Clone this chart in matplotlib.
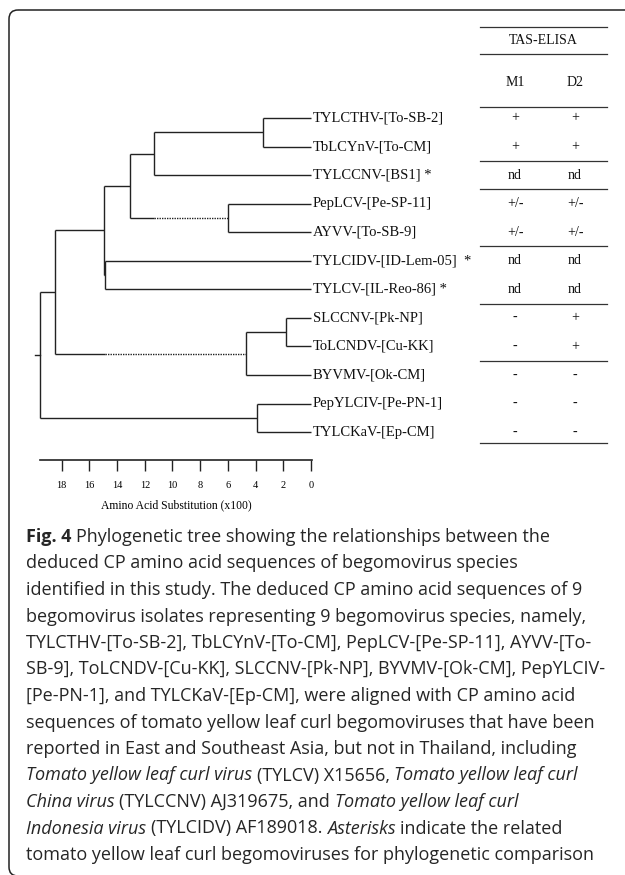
import matplotlib
matplotlib.use('Agg')
import matplotlib.pyplot as plt
from matplotlib.patches import FancyBboxPatch
from matplotlib.transforms import blended_transform_factory


# ---- data ----
leaves = ['TYLCTHV-[To-SB-2]', 'TbLCYnV-[To-CM]', 'TYLCCNV-[BS1] *', 'PepLCV-[Pe-SP-11]',
          'AYVV-[To-SB-9]', 'TYLCIDV-[ID-Lem-05]  *', 'TYLCV-[IL-Reo-86] *', 'SLCCNV-[Pk-NP]',
          'ToLCNDV-[Cu-KK]', 'BYVMV-[Ok-CM]', 'PepYLCIV-[Pe-PN-1]', 'TYLCKaV-[Ep-CM]']
m1 = ['+', '+', 'nd', '+/-', '+/-', 'nd', 'nd', '-', '-', '-', '-', '-']
d2 = ['+', '+', 'nd', '+/-', '+/-', 'nd', 'nd', '+', '+', '-', '-', '-']
group_breaks = [1.5, 2.5, 4.5, 6.5, 8.5]   # row gaps with a rule

# internal nodes: name, depth (x100 substitutions), children
node_names = ['root', 'A', 'B', 'C', 'C2', 'D', 'E', 'F', 'G', 'H', 'I']
node_depths = [19.57, 3.9, 18.5, 14.95, 14.85, 13.1, 11.3, 3.5, 6.0, 4.7, 1.8]
node_children = [['B', 'A'], [10, 11], ['C', 'H'], ['D', 'C2'], [5, 6], ['E', 'G'],
                 ['F', 2], [0, 1], [3, 4], ['I', 9], [7, 8]]
# branches drawn partly dotted: child -> depth where the dotted part starts
dotted_from = {'G': 11.3, 'H': 14.9}

scale_ticks = [18, 16, 14, 12, 10, 8, 6, 4, 2, 0]

caption = [
    [('Fig. 4', 'b'), (' Phylogenetic tree showing the relationships between the', 'n')],
    [('deduced CP amino acid sequences of begomovirus species', 'n')],
    [('identified in this study. The deduced CP amino acid sequences of 9', 'n')],
    [('begomovirus isolates representing 9 begomovirus species, namely,', 'n')],
    [('TYLCTHV-[To-SB-2], TbLCYnV-[To-CM], PepLCV-[Pe-SP-11], AYVV-[To-', 'n')],
    [('SB-9], ToLCNDV-[Cu-KK], SLCCNV-[Pk-NP], BYVMV-[Ok-CM], PepYLCIV-', 'n')],
    [('[Pe-PN-1], and TYLCKaV-[Ep-CM], were aligned with CP amino acid', 'n')],
    [('sequences of tomato yellow leaf curl begomoviruses that have been', 'n')],
    [('reported in East and Southeast Asia, but not in Thailand, including', 'n')],
    [('Tomato yellow leaf curl virus', 'i'), (' (TYLCV) X15656, ', 'n'), ('Tomato yellow leaf curl', 'i')],
    [('China virus', 'i'), (' (TYLCCNV) AJ319675, and ', 'n'), ('Tomato yellow leaf curl', 'i')],
    [('Indonesia virus', 'i'), (' (TYLCIDV) AF189018. ', 'n'), ('Asterisks', 'i'),
     (' indicate the related', 'n')],
    [('tomato yellow leaf curl begomoviruses for phylogenetic comparison', 'n')],
]

# ---- layout (pixels) ----
W, H = 625, 875
PX_PER_UNIT = 13.85
X0 = 311          # pixel of depth 0
Y0, DY = 118, 28.55
LINE = '#222222'
SERIF = 'Liberation Serif'
CAP_FS = 13.0

fig = plt.figure(figsize=(W / 100, H / 100), dpi=100)
ax = fig.add_axes([0, 0, 1, 1])
ax.set_xlim(0, W)
ax.set_ylim(H, 0)
ax.axis('off')


def depth_box(d_left, d_right, top_px, bot_px):
    l = X0 - PX_PER_UNIT * d_left
    r = X0 - PX_PER_UNIT * d_right
    return [l / W, 1 - bot_px / H, (r - l) / W, (bot_px - top_px) / H]


tree = fig.add_axes(depth_box(20.5, -0.5, Y0 - 0.5 * DY, Y0 + 11.5 * DY))
tree.set_xlim(20.5, -0.5)
tree.set_ylim(11.5, -0.5)
tree.axis('off')

node_idx = {n: i for i, n in enumerate(node_names)}


def draw(node):
    if isinstance(node, int):
        return node, 0.0
    i = node_idx[node]
    d = node_depths[i]
    ys = []
    for ch in node_children[i]:
        y, cd = draw(ch)
        ys.append(y)
        if ch in dotted_from:
            s = dotted_from[ch]
            tree.plot([d, s], [y, y], color=LINE, lw=1.0, solid_capstyle='butt')
            tree.plot([s, cd], [y, y], color=LINE, lw=1.0, ls=(0, (1, 0.8)))
        else:
            tree.plot([d, cd], [y, y], color=LINE, lw=1.0, solid_capstyle='butt')
    tree.plot([d, d], [min(ys), max(ys)], color=LINE, lw=1.0, solid_capstyle='butt')
    return (ys[0] + ys[-1]) / 2, d


root_y, root_d = draw('root')
tree.plot([root_d + 0.35, root_d], [root_y, root_y], color=LINE, lw=1.0)

for i, name in enumerate(leaves):
    tree.text(-0.15, i, name, ha='left', va='center', fontsize=10.5,
              family=SERIF, color='#111111', clip_on=False)

# ---- TAS-ELISA table ----
tx = blended_transform_factory(ax.transData, tree.transData)
T_L, T_R = 480, 607
C_M1, C_D2 = 515, 575
TFS = 10
for r in [27, 54, 107, 443]:
    ax.plot([T_L, T_R], [r, r], color='#333333', lw=0.9)
for g in group_breaks:
    ax.plot([T_L, T_R], [g, g], color='#333333', lw=0.9, transform=tx)
ax.text((T_L + T_R) / 2, 41, 'TAS-ELISA', ha='center', va='center', fontsize=TFS,
        family=SERIF, color='#111111')
ax.text(C_M1, 82, 'M1', ha='center', va='center', fontsize=TFS, family=SERIF, color='#111111')
ax.text(C_D2, 82, 'D2', ha='center', va='center', fontsize=TFS, family=SERIF, color='#111111')
for i in range(len(leaves)):
    ax.text(C_M1, i, m1[i], ha='center', va='center', fontsize=TFS,
            family=SERIF, color='#111111', transform=tx)
    ax.text(C_D2, i, d2[i], ha='center', va='center', fontsize=TFS,
            family=SERIF, color='#111111', transform=tx)

# ---- scale bar ----
sc = fig.add_axes(depth_box(19.57, -0.07, 440, 460))
sc.set_xlim(19.57, -0.07)
sc.set_xticks(scale_ticks)
sc.set_yticks([])
for s in ['top', 'left', 'right']:
    sc.spines[s].set_visible(False)
sc.spines['bottom'].set_linewidth(1.2)
sc.spines['bottom'].set_color(LINE)
sc.patch.set_alpha(0)
sc.tick_params(axis='x', direction='out', length=8.0, width=1.0, color=LINE, pad=7,
               labelsize=7.5, labelfontfamily=SERIF)
sc.set_xlabel('Amino Acid Substitution (x100)', fontsize=8.4, family=SERIF, labelpad=6.5)

# ---- frame ----
frame = FancyBboxPatch((9, 10), 700, 866, boxstyle='round,pad=0,rounding_size=9',
                       fc='none', ec='#222222', lw=1.1, clip_on=False)
ax.add_patch(frame)

# ---- caption ----
fig.canvas.draw()
rend = fig.canvas.get_renderer()
styles = {'n': dict(), 'b': dict(fontweight='bold'), 'i': dict(fontstyle='italic')}


def width(s, st):
    t = ax.text(0, 0, s, fontsize=CAP_FS, family='Open Sans', **styles[st])
    w = t.get_window_extent(rend).width
    t.remove()
    return w


for k, parts in enumerate(caption):
    y = 537 + 26.5 * k
    x = 26
    for s, st in parts:
        lead = len(s) - len(s.lstrip(' '))
        trail = len(s) - len(s.rstrip(' '))
        sp = width('x x', st) - width('xx', st)
        x += lead * sp
        body = s.strip(' ')
        t = ax.text(x, y, body, fontsize=CAP_FS, family='Open Sans', va='center', ha='left',
                    color='#262626', **styles[st])
        x += t.get_window_extent(rend).width + trail * sp

fig.savefig('out.png', dpi=100)
